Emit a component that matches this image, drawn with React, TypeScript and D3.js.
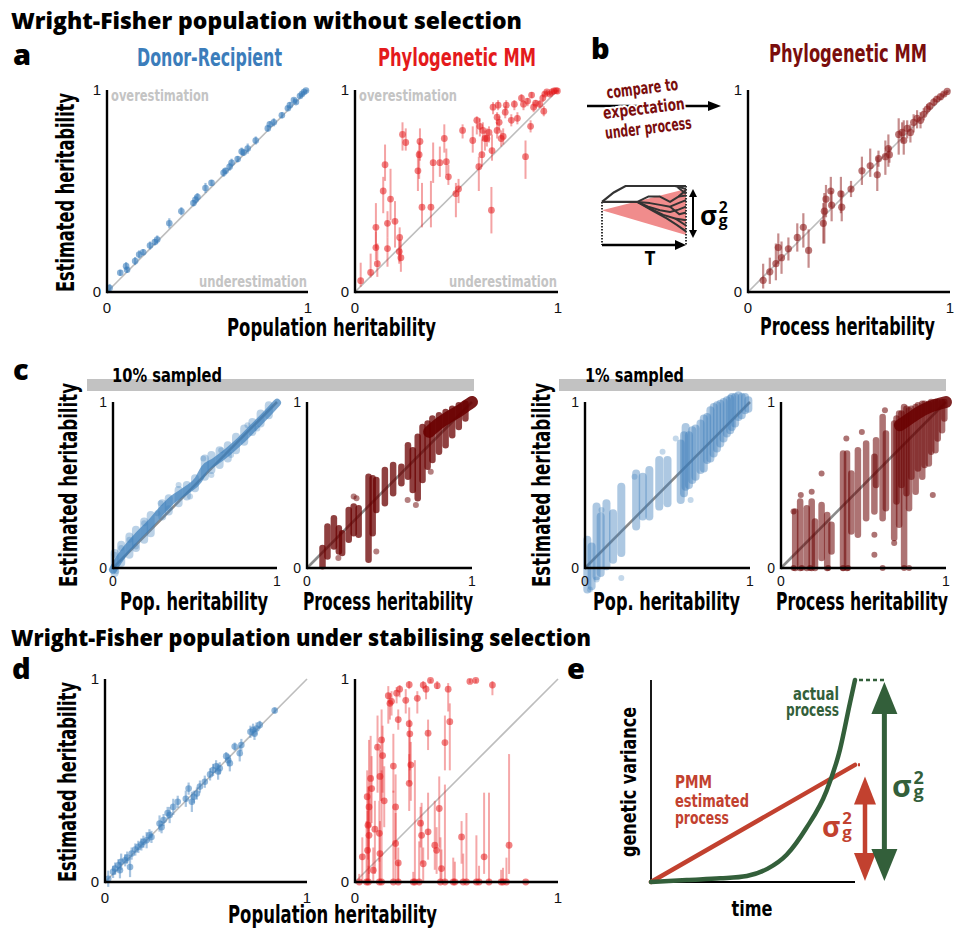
import React from "react";
import * as d3 from "d3";

const W = 955, H = 933;
const COND = "'Liberation Sans Narrow','Arial Narrow','DejaVu Sans Condensed','Roboto',sans-serif";
const BOLD = "'Open Sans','DejaVu Sans',sans-serif";
const TICK = "'Liberation Sans','Arimo',Arial,sans-serif";

const BLUE = "#3b7dbb";
const RED = "#e41a1c";
const DRED = "#7a0d0d";
const BRED = "#8c1a1a";
const CRED = "#6a0000";
const EGREEN = "#335f3a";
const ERED = "#c2412f";
const GRAYTXT = "#c4c4c4";

// ---------- panel a : Donor-Recipient [x, y, halfErr]
const aDR: number[][] = [
  [0.013,0.02,0.02],[0.066,0.095,0.015],[0.095,0.128,0.02],[0.1,0.11,0.015],[0.14,0.153,0.02],[0.16,0.186,0.02],
  [0.18,0.197,0.015],[0.214,0.23,0.02],[0.238,0.247,0.015],[0.25,0.26,0.02],[0.31,0.34,0.025],[0.37,0.40,0.02],
  [0.43,0.44,0.015],[0.44,0.457,0.02],[0.45,0.47,0.02],[0.49,0.515,0.025],[0.52,0.54,0.015],[0.58,0.59,0.02],
  [0.59,0.6,0.015],[0.61,0.62,0.02],[0.62,0.64,0.02],[0.65,0.658,0.015],[0.67,0.695,0.02],[0.68,0.69,0.015],
  [0.70,0.71,0.025],[0.74,0.75,0.02],[0.80,0.81,0.015],[0.81,0.83,0.015],[0.83,0.84,0.02],[0.87,0.875,0.015],
  [0.9,0.91,0.01],[0.91,0.925,0.015],[0.93,0.95,0.01],[0.94,0.94,0.01],[0.96,0.97,0.01],[0.97,0.98,0.01],
  [0.98,0.99,0.008],[0.99,0.997,0.005],
];
// ---------- panel a : Phylogenetic MM [x, y, lo, hi]
const aPMM: number[][] = [
  [0.028,0.056,0.026,0.145],[0.077,0.097,0.072,0.19],[0.11,0.14,0.075,0.24],[0.103,0.22,0.158,0.30],
  [0.103,0.32,0.215,0.44],[0.139,0.50,0.39,0.57],[0.148,0.63,0.55,0.73],[0.16,0.215,0.125,0.27],
  [0.16,0.34,0.27,0.40],[0.175,0.46,0.355,0.61],[0.197,0.35,0.22,0.45],[0.22,0.27,0.15,0.32],
  [0.218,0.20,0.14,0.26],[0.226,0.17,0.10,0.26],[0.234,0.78,0.70,0.84],[0.25,0.74,0.70,0.81],
  [0.31,0.60,0.50,0.70],[0.316,0.68,0.56,0.74],[0.32,0.745,0.65,0.81],[0.33,0.42,0.32,0.54],
  [0.374,0.42,0.32,0.55],[0.385,0.64,0.54,0.74],[0.418,0.64,0.57,0.72],[0.44,0.76,0.69,0.83],
  [0.45,0.645,0.58,0.71],[0.46,0.57,0.53,0.63],[0.497,0.487,0.37,0.54],[0.51,0.51,0.44,0.56],
  [0.53,0.80,0.76,0.83],[0.58,0.75,0.69,0.82],[0.60,0.85,0.78,0.87],[0.61,0.62,0.50,0.67],
  [0.615,0.82,0.77,0.86],[0.625,0.68,0.62,0.755],[0.63,0.80,0.75,0.84],[0.64,0.76,0.70,0.80],
  [0.65,0.76,0.72,0.81],[0.66,0.79,0.74,0.82],[0.675,0.70,0.65,0.78],[0.672,0.405,0.29,0.52],
  [0.68,0.915,0.88,0.94],[0.70,0.865,0.83,0.89],[0.70,0.80,0.76,0.84],[0.705,0.925,0.9,0.95],
  [0.71,0.84,0.80,0.87],[0.72,0.76,0.72,0.80],[0.73,0.77,0.73,0.81],[0.74,0.89,0.86,0.92],
  [0.745,0.925,0.9,0.95],[0.77,0.85,0.82,0.88],[0.785,0.93,0.9,0.95],[0.80,0.86,0.83,0.89],
  [0.82,0.96,0.94,0.98],[0.83,0.93,0.9,0.95],[0.84,0.67,0.56,0.75],[0.85,0.945,0.92,0.96],
  [0.865,0.82,0.79,0.85],[0.87,0.975,0.96,0.99],[0.88,0.915,0.89,0.94],[0.89,0.935,0.91,0.95],
  [0.91,0.93,0.91,0.95],[0.925,0.96,0.94,0.98],[0.93,0.895,0.87,0.92],[0.935,0.98,0.97,0.99],
  [0.945,0.99,0.98,1.0],[0.96,0.98,0.97,0.99],[0.97,0.99,0.98,1.0],[0.98,0.995,0.99,1.0],
  [0.99,0.997,0.99,1.0],[0.997,0.995,0.99,1.0],
];
// ---------- panel b : PMM vs process heritability [x, y, lo, hi]
const bPMM: number[][] = [
  [0.075,0.058,0.017,0.14],[0.108,0.10,0.04,0.17],[0.138,0.14,0.058,0.24],[0.15,0.22,0.14,0.29],
  [0.166,0.17,0.09,0.25],[0.2,0.214,0.156,0.27],[0.244,0.27,0.2,0.34],[0.274,0.32,0.22,0.39],
  [0.3,0.206,0.12,0.31],[0.373,0.34,0.24,0.44],[0.378,0.40,0.24,0.49],[0.386,0.46,0.37,0.53],
  [0.41,0.50,0.42,0.57],[0.414,0.43,0.35,0.50],[0.46,0.486,0.39,0.57],[0.464,0.42,0.35,0.50],
  [0.51,0.51,0.47,0.55],[0.564,0.60,0.53,0.67],[0.605,0.625,0.57,0.71],[0.64,0.58,0.50,0.67],
  [0.646,0.66,0.62,0.70],[0.68,0.67,0.58,0.75],[0.695,0.71,0.62,0.78],[0.7,0.68,0.64,0.72],
  [0.746,0.78,0.68,0.86],[0.763,0.79,0.74,0.84],[0.771,0.75,0.68,0.85],[0.788,0.81,0.76,0.85],
  [0.804,0.79,0.74,0.83],[0.82,0.84,0.79,0.88],[0.837,0.86,0.81,0.90],[0.854,0.85,0.81,0.89],
  [0.87,0.88,0.85,0.91],[0.887,0.906,0.88,0.93],[0.9,0.92,0.9,0.94],[0.92,0.94,0.92,0.96],
  [0.935,0.955,0.94,0.97],[0.953,0.967,0.95,0.98],[0.97,0.98,0.97,0.99],[0.986,0.993,0.985,1.0],
];
// ---------- panel b inset schematic (unit coords)
const insetTop: number[][] = [[0,0.73],[0.14,0.89],[0.28,1],[1,1]];
const insetStem: number[][] = [[0,0.73],[0.42,0.73]];
const insetCone: number[][] = [[0,0.59],[1,0.95],[1,0.17]];
const insetPaths: number[][][] = [
  [[0.42,0.73],[0.55,0.82],[0.69,0.82],[0.81,0.73],[0.91,0.82],[1,0.93]],
  [[0.42,0.73],[0.57,0.71],[0.69,0.68],[0.81,0.65],[0.91,0.71],[1,0.76]],
  [[0.42,0.73],[0.55,0.65],[0.69,0.59],[0.81,0.56],[0.91,0.60],[1,0.65]],
  [[0.42,0.73],[0.57,0.62],[0.73,0.51],[0.87,0.45],[1,0.42]],
  [[0.42,0.73],[0.59,0.59],[0.77,0.45],[0.89,0.34],[1,0.23]],
  [[0.87,1],[1,0.95]],
  [[0.9,0.98],[1,0.87]],
  [[0.91,0.82],[1,0.84]],
  [[0.81,0.65],[0.92,0.52],[1,0.55]],
  [[0.87,0.45],[1,0.33]],
];

// ---------- panel c : 10% sampled
const c10BlueBand: number[][] = [
  [0.0,-0.01],[0.03,0.04],[0.08,0.11],[0.16,0.2],[0.24,0.28],[0.3,0.35],[0.36,0.41],[0.45,0.47],
  [0.52,0.53],[0.56,0.6],[0.62,0.64],[0.7,0.7],[0.78,0.77],[0.86,0.85],[0.93,0.92],[1.0,0.995],
];
const c10BlueCols: number[][] = [
  [0.01,-0.03,0.09],[0.05,0.03,0.14],[0.1,0.08,0.19],[0.14,0.12,0.23],[0.19,0.17,0.28],[0.23,0.21,0.32],
  [0.3,0.31,0.39],[0.34,0.34,0.42],[0.4,0.39,0.47],[0.45,0.43,0.5],[0.5,0.48,0.54],[0.56,0.55,0.66],
  [0.6,0.59,0.68],[0.65,0.62,0.71],[0.7,0.66,0.74],[0.75,0.71,0.79],[0.8,0.76,0.84],[0.85,0.82,0.88],
  [0.9,0.87,0.93],[0.95,0.92,0.98],
];
const c10BluePts: number[][] = [
  [0.01,0.08],[0.02,-0.02],[0.05,0.12],[0.1,0.17],[0.14,0.13],[0.19,0.27],[0.27,0.33],[0.29,0.39],
  [0.34,0.36],[0.4,0.5],[0.47,0.43],[0.55,0.66],[0.6,0.56],[0.66,0.71],[0.72,0.68],[0.82,0.86],[0.88,0.84],
];
const c10RedCols: number[][] = [
  [0.094,0.01,0.12],[0.124,0.07,0.25],[0.163,0.13,0.30],[0.193,0.10,0.24],[0.213,0.09,0.21],
  [0.253,0.17,0.35],[0.283,0.21,0.37],[0.313,0.2,0.36],[0.373,0.05,0.55],[0.398,0.21,0.54],
  [0.42,0.35,0.53],[0.472,0.39,0.59],[0.522,0.45,0.62],[0.572,0.51,0.61],[0.612,0.55,0.74],
  [0.641,0.47,0.71],[0.671,0.42,0.79],[0.70,0.53,0.85],[0.731,0.61,0.87],[0.76,0.65,0.9],
  [0.8,0.70,0.92],[0.84,0.74,0.94],[0.88,0.8,0.96],[0.92,0.85,0.98],[0.96,0.9,0.99],
];
const c10RedBand: number[][] = [[0.74,0.82],[0.8,0.87],[0.86,0.91],[0.92,0.945],[0.97,0.98],[1.0,1.0]];
const c10RedPts: number[][] = [[0.283,0.43],[0.3,0.42],[0.19,0.06],[0.42,0.1],[0.61,0.41],[0.66,0.38],[0.75,0.58]];

// ---------- panel c : 1% sampled
const c1BlueCols: number[][] = [
  [0.014,-0.13,0.17],[0.04,-0.11,0.13],[0.07,-0.05,0.37],[0.095,-0.03,0.31],[0.13,0.01,0.39],
  [0.17,0.05,0.33],[0.22,0.09,0.49],[0.31,0.25,0.57],[0.35,0.31,0.55],[0.39,0.31,0.59],
  [0.45,0.37,0.65],[0.50,0.39,0.65],[0.58,0.41,0.75],[0.6,0.45,0.8],[0.61,0.49,0.85],[0.63,0.5,0.8],
  [0.65,0.53,0.83],[0.67,0.55,0.84],[0.70,0.59,0.87],[0.72,0.6,0.9],[0.74,0.65,0.91],[0.76,0.66,0.95],
  [0.78,0.69,0.97],[0.8,0.72,0.98],[0.82,0.75,0.99],[0.84,0.78,1.0],[0.86,0.81,1.01],[0.88,0.83,1.02],
  [0.89,0.85,1.03],[0.91,0.87,1.03],[0.93,0.91,1.04],[0.95,0.92,1.03],[0.97,0.95,1.03],[0.99,0.96,1.01],
];
const c1BluePts: number[][] = [[0.07,-0.07],[0.22,-0.06],[0.03,-0.13],[0.3,0.55],[0.64,0.41],[0.1,0.35],[0.47,0.7],[0.55,0.78]];
const c1RedCols: number[][] = [
  [0.086,0,0.34],[0.116,0,0.40],[0.156,0,0.36],[0.186,0,0.40],[0.206,0,0.28],[0.246,0.06,0.38],
  [0.28,0,0.32],[0.306,0.1,0.26],[0.376,0,0.69],[0.4,0,0.69],[0.426,0.22,0.57],[0.466,0.2,0.71],
  [0.516,0.3,0.75],[0.566,0.34,0.67],[0.576,0.5,0.77],[0.616,0.3,0.91],[0.636,0.36,0.81],
  [0.686,0.18,0.87],[0.7,0.4,0.9],[0.716,0.26,0.93],[0.73,0.5,0.93],[0.746,0.02,0.97],[0.76,0.45,0.96],
  [0.776,0.36,0.95],[0.79,0.55,0.96],[0.816,0.46,0.97],[0.83,0.6,0.98],[0.856,0.55,0.99],[0.87,0.62,0.99],
  [0.896,0.63,0.99],[0.91,0.7,1.0],[0.936,0.71,1.0],[0.95,0.78,1.0],[0.976,0.83,1.0],[0.99,0.9,1.0],
];
const c1RedBand: number[][] = [[0.72,0.86],[0.78,0.9],[0.84,0.94],[0.9,0.97],[0.96,0.99],[1.0,1.0]];
const c1RedPts: number[][] = [
  [0.076,0],[0.126,0],[0.176,0],[0.286,0],[0.376,0],[0.406,0],[0.616,0],[0.746,0],[0.776,0],
  [0.92,0.44],[0.566,0.20],[0.396,0.78],[0.246,0.57],[0.076,0.34],[0.566,0.08],[0.686,0.15],
  [0.186,0.46],[0.12,0.44],[0.49,0.82],[0.63,0.95],
];

// ---------- panel d
const dDR: number[][] = [
  [0.016,0.016,0.04],[0.04,0.05,0.03],[0.05,0.066,0.03],[0.066,0.082,0.03],[0.074,0.058,0.04],[0.08,0.1,0.04],
  [0.10,0.107,0.03],[0.11,0.12,0.03],[0.124,0.074,0.05],[0.132,0.14,0.03],[0.15,0.16,0.03],[0.165,0.173,0.03],
  [0.18,0.185,0.03],[0.19,0.198,0.03],[0.206,0.206,0.04],[0.22,0.23,0.03],[0.23,0.222,0.03],[0.27,0.288,0.04],
  [0.28,0.27,0.03],[0.29,0.305,0.03],[0.31,0.34,0.03],[0.32,0.33,0.04],[0.338,0.37,0.04],[0.36,0.395,0.03],
  [0.40,0.41,0.04],[0.414,0.46,0.03],[0.43,0.395,0.05],[0.44,0.42,0.03],[0.455,0.436,0.03],[0.47,0.47,0.03],
  [0.494,0.494,0.03],[0.52,0.53,0.03],[0.535,0.552,0.03],[0.55,0.57,0.03],[0.56,0.544,0.04],[0.568,0.56,0.03],
  [0.6,0.62,0.02],[0.61,0.60,0.03],[0.618,0.585,0.04],[0.642,0.667,0.02],[0.667,0.634,0.04],[0.675,0.675,0.03],
  [0.72,0.74,0.03],[0.733,0.75,0.03],[0.74,0.73,0.03],[0.75,0.756,0.03],[0.766,0.774,0.02],[0.84,0.845,0.015],
];
const dPMM: number[][] = [
  [0.164,0.918,0.78,0.965],[0.172,0.88,0.80,0.93],[0.18,0.89,0.82,0.94],[0.205,0.93,0.88,0.96],
  [0.22,0.95,0.91,0.97],[0.213,0.80,0.75,0.85],[0.25,0.895,0.83,0.95],[0.267,0.972,0.95,0.99],
  [0.307,0.905,0.83,0.94],[0.336,0.97,0.95,0.99],[0.35,0.95,0.90,0.97],[0.372,0.993,0.98,1.0],
  [0.405,0.967,0.95,0.99],[0.459,0.95,0.84,0.98],[0.566,0.988,0.98,1.0],[0.595,0.993,0.98,1.0],
  [0.677,0.97,0.92,0.99],
  [0.036,0.124,0.0,0.22],[0.06,0.42,0.27,0.55],[0.069,0.37,0.0,0.70],[0.064,0.28,0.11,0.47],
  [0.069,0.23,0.04,0.47],[0.062,0.156,0.0,0.35],[0.077,0.51,0.27,0.72],[0.082,0.46,0.29,0.62],
  [0.09,0.058,0.0,0.17],[0.098,0.26,0.04,0.40],[0.111,0.664,0.44,0.82],[0.12,0.24,0.10,0.40],
  [0.123,0.14,0.0,0.30],[0.123,0.52,0.40,0.65],[0.131,0.70,0.40,0.85],[0.136,0.623,0.44,0.77],
  [0.144,0.40,0.27,0.57],[0.189,0.571,0.44,0.73],[0.20,0.37,0.11,0.53],[0.20,0.19,0.0,0.34],
  [0.213,0.094,0.0,0.17],[0.267,0.78,0.49,0.86],[0.27,0.73,0.55,0.80],[0.275,0.577,0.40,0.69],
  [0.267,0.486,0.35,0.63],[0.323,0.29,0.17,0.37],[0.328,0.23,0.09,0.39],[0.336,0.09,0.0,0.17],
  [0.36,0.733,0.65,0.80],[0.36,0.247,0.11,0.44],[0.393,0.181,0.06,0.40],[0.402,0.156,0.04,0.27],
  [0.415,0.362,0.17,0.52],[0.426,0.066,0.0,0.16],[0.443,0.687,0.55,0.82],[0.467,0.79,0.55,0.88],
  [0.525,0.222,0.09,0.30],[0.636,0.124,0.04,0.44],[0.759,0.181,0.04,0.63],
  [0.021,0,0,0.04],[0.057,0,0,0.30],[0.066,0,0,0.08],[0.12,0,0,0.12],[0.131,0,0,0.55],[0.189,0,0,0.45],
  [0.213,0,0,0.10],[0.287,0,0,0.05],[0.295,0,0,0.60],[0.316,0,0,0.20],[0.421,0,0,0.22],[0.443,0,0,0.48],
  [0.484,0,0,0.12],[0.492,0,0,0.10],[0.533,0,0,0.14],[0.549,0,0,0.34],[0.598,0,0,0.23],[0.611,0,0,0.08],
  [0.66,0,0,0.44],[0.72,0,0,0.06],[0.729,0,0,0.07],[0.746,0,0,0.12],[0.841,0,0,0.0],
];

// ---------- panel e
const eActual: number[][] = [[0,0],[0.175,0.01],[0.34,0.018],[0.47,0.03],[0.57,0.065],[0.665,0.135],[0.76,0.265],[0.86,0.45],[0.926,0.654],[0.975,0.885],[1.0,1.0]];
const ePMM: number[][] = [[0,0],[1.0,0.58]];
const eArrows = [
  { x: 1.049, y0: 0.005, y1: 0.522, color: ERED, hw: 11, hl: 28, sw: 4.5 },
  { x: 1.144, y0: 0.005, y1: 0.99, color: EGREEN, hw: 13, hl: 32, sw: 5 },
];

type Sc = d3.ScaleLinear<number, number>;

function Plot(props: {
  x0: number; x1: number; yTop: number; yBot: number;
  diagColor?: string; diagW?: number; axisW?: number; fs?: number; xLabDy?: number;
  children?: (xs: Sc, ys: Sc) => React.ReactNode;
}) {
  const { x0, x1, yTop, yBot, diagColor = "#bdbdbd", diagW = 1.6, axisW = 2.4, fs = 15, xLabDy = 21, children } = props;
  const xs = d3.scaleLinear().domain([0, 1]).range([x0, x1]);
  const ys = d3.scaleLinear().domain([0, 1]).range([yBot, yTop]);
  return (
    <g>
      <line x1={xs(0)} y1={ys(0)} x2={xs(1)} y2={ys(1)} stroke={diagColor} strokeWidth={diagW} />
      {children && children(xs, ys)}
      <line x1={x0} y1={yTop} x2={x0} y2={yBot + axisW / 2} stroke="#000" strokeWidth={axisW} />
      <line x1={x0} y1={yBot} x2={x1} y2={yBot} stroke="#000" strokeWidth={axisW} />
      <g fontFamily={TICK} fontSize={fs} fill="#111">
        <text x={x0 - 6} y={ys(1) + fs * 0.36} textAnchor="end">1</text>
        <text x={x0 - 6} y={ys(0) + fs * 0.36} textAnchor="end">0</text>
        <text x={xs(0)} y={yBot + xLabDy} textAnchor="middle">0</text>
        <text x={xs(1)} y={yBot + xLabDy} textAnchor="middle">1</text>
      </g>
    </g>
  );
}

function ErrPts({ data, xs, ys, color, r = 3.4, op = 0.55, barOp = 0.42, barW = 2 }:
  { data: number[][]; xs: Sc; ys: Sc; color: string; r?: number; op?: number; barOp?: number; barW?: number }) {
  return (
    <g>
      {data.map((d, i) => (
        <line key={"b" + i} x1={xs(d[0])} x2={xs(d[0])} y1={ys(d[2])} y2={ys(d[3])}
          stroke={color} strokeOpacity={barOp} strokeWidth={barW} />
      ))}
      {data.map((d, i) => (
        <circle key={"c" + i} cx={xs(d[0])} cy={ys(d[1])} r={r} fill={color} fillOpacity={op} />
      ))}
    </g>
  );
}

function symm(data: number[][]) {
  return data.map((d) => [d[0], d[1], d[1] - d[2], d[1] + d[2]]);
}

function Cols({ data, xs, ys, color, w = 7, op = 0.5 }:
  { data: number[][]; xs: Sc; ys: Sc; color: string; w?: number; op?: number }) {
  return (
    <g>
      {data.map((d, i) => (
        <line key={i} x1={xs(d[0])} x2={xs(d[0])} y1={ys(d[1])} y2={ys(d[2])}
          stroke={color} strokeWidth={w} strokeLinecap="round" strokeOpacity={op} />
      ))}
    </g>
  );
}

function Dots({ data, xs, ys, color, r = 3, op = 0.5 }:
  { data: number[][]; xs: Sc; ys: Sc; color: string; r?: number; op?: number }) {
  return <g>{data.map((d, i) => <circle key={i} cx={xs(d[0])} cy={ys(d[1])} r={r} fill={color} fillOpacity={op} />)}</g>;
}

function Band({ data, xs, ys, color, w, op }:
  { data: number[][]; xs: Sc; ys: Sc; color: string; w: number; op: number }) {
  const line = d3.line<number[]>().x((d) => xs(d[0])).y((d) => ys(d[1])).curve(d3.curveMonotoneX);
  return <path d={line(data) || ""} fill="none" stroke={color} strokeWidth={w} strokeOpacity={op}
    strokeLinecap="round" strokeLinejoin="round" />;
}

function CText(p: { x: number; y: number; len?: number; size: number; color?: string; anchor?: string; rotate?: boolean; children: React.ReactNode; font?: string; weight?: number | string }) {
  const { x, y, len, size, color = "#000", anchor = "start", rotate = false, children, font = COND, weight = "bold" } = p;
  return (
    <text x={x} y={y} fontFamily={font} fontWeight={weight} fontSize={size} fill={color}
      textAnchor={anchor as any}
      textLength={len} lengthAdjust={len ? "spacingAndGlyphs" : undefined}
      transform={rotate ? `rotate(-90 ${x} ${y})` : undefined}>
      {children}
    </text>
  );
}

function Sigma({ x, y, size, color }: { x: number; y: number; size: number; color: string }) {
  const s = size * 0.6;
  const dx = size * 0.72;
  return (
    <g fontFamily={BOLD} fontWeight="bold" fill={color}>
      <text x={x} y={y} fontSize={size}>σ</text>
      <text x={x + dx} y={y - size * 0.45} fontSize={s}>2</text>
      <text x={x + dx} y={y + size * 0.04} fontSize={s}>g</text>
    </g>
  );
}

function ArrowHead({ x, y, dir, hw, hl, color }: { x: number; y: number; dir: string; hw: number; hl: number; color: string }) {
  let pts: number[][];
  if (dir === "up") pts = [[x, y], [x - hw, y + hl], [x + hw, y + hl]];
  else if (dir === "down") pts = [[x, y], [x - hw, y - hl], [x + hw, y - hl]];
  else pts = [[x, y], [x - hl, y - hw], [x - hl, y + hw]];
  return <polygon points={pts.map((p) => p.join(",")).join(" ")} fill={color} />;
}

function Inset() {
  const xi = d3.scaleLinear().domain([0, 1]).range([602, 686]);
  const yi = d3.scaleLinear().domain([0, 1]).range([245, 186]);
  const ln = d3.line<number[]>().x((d) => xi(d[0])).y((d) => yi(d[1]));
  return (
    <g>
      <polygon points={insetCone.map((d) => `${xi(d[0])},${yi(d[1])}`).join(" ")} fill="#f08c8c" />
      <line x1={xi(0)} x2={xi(0)} y1={yi(0.73)} y2={yi(0)} stroke="#333" strokeWidth={2} strokeDasharray="1.5,1.5" />
      <line x1={xi(1)} x2={xi(1)} y1={yi(1)} y2={yi(0)} stroke="#333" strokeWidth={2} strokeDasharray="1.5,1.5" />
      <path d={ln(insetTop) || ""} fill="none" stroke="#333" strokeWidth={2.2} />
      <path d={ln(insetStem) || ""} fill="none" stroke="#333" strokeWidth={2.2} />
      {insetPaths.map((p, i) => <path key={i} d={ln(p) || ""} fill="none" stroke="#333" strokeWidth={2} strokeLinejoin="round" />)}
      <line x1={xi(0)} x2={xi(1) - 8} y1={yi(0)} y2={yi(0)} stroke="#000" strokeWidth={2.5} />
      <ArrowHead x={xi(1)} y={yi(0)} dir="right" hw={5} hl={11} color="#000" />
      <line x1={693} x2={693} y1={196} y2={231} stroke="#000" strokeWidth={2} />
      <ArrowHead x={693} y={189} dir="up" hw={4} hl={8} color="#000" />
      <ArrowHead x={693} y={238} dir="down" hw={4} hl={8} color="#000" />
      <Sigma x={700} y={225} size={26} color="#000" />
      <text x={650} y={265} fontFamily={BOLD} fontWeight="bold" fontSize={19} textAnchor="middle">T</text>
    </g>
  );
}

export default function App() {
  const ex = d3.scaleLinear().domain([0, 1]).range([651, 855]);
  const ey = d3.scaleLinear().domain([0, 1]).range([882, 680]);
  const eLine = d3.line<number[]>().x((d) => ex(d[0])).y((d) => ey(d[1])).curve(d3.curveMonotoneX);

  return (
    <svg width={W} height={H} viewBox={`0 0 ${W} ${H}`}
      style={{ position: "absolute", left: 0, top: 0, background: "#fff" }}>
      <rect width={W} height={H} fill="#fff" />

      {/* titles */}
      <CText x={11} y={29} size={23} len={511} font={BOLD} weight={800}>Wright-Fisher population without selection</CText>
      <CText x={11} y={646} size={23} len={580} font={BOLD} weight={800}>Wright-Fisher population under stabilising selection</CText>

      {/* panel letters */}
      <CText x={13} y={65} size={29} font={BOLD} weight={800}>a</CText>
      <CText x={591} y={59} size={29} font={BOLD} weight={800}>b</CText>
      <CText x={13} y={380} size={29} font={BOLD} weight={800}>c</CText>
      <CText x={12} y={679} size={29} font={BOLD} weight={800}>d</CText>
      <CText x={567} y={679} size={29} font={BOLD} weight={800}>e</CText>

      {/* panel a */}
      <CText x={137} y={66} size={24} len={145} color={BLUE}>Donor-Recipient</CText>
      <CText x={378} y={66} size={24} len={158} color={RED}>Phylogenetic MM</CText>
      <CText x={74} y={292} size={24} len={199} rotate>Estimated heritability</CText>
      <CText x={227} y={336} size={24} len={209}>Population heritability</CText>
      <Plot x0={107} x1={308} yTop={90} yBot={292}>
        {(xs, ys) => <ErrPts data={symm(aDR)} xs={xs} ys={ys} color={BLUE} r={3.3} op={0.6} barOp={0.5} barW={2.2} />}
      </Plot>
      <CText x={111} y={101} size={15} len={98} color={GRAYTXT}>overestimation</CText>
      <CText x={307} y={287} size={15} len={108} color={GRAYTXT} anchor="end">underestimation</CText>
      <Plot x0={355} x1={558} yTop={90} yBot={292}>
        {(xs, ys) => <ErrPts data={aPMM} xs={xs} ys={ys} color={RED} r={3.4} op={0.55} barOp={0.4} />}
      </Plot>
      <CText x={359} y={101} size={15} len={98} color={GRAYTXT}>overestimation</CText>
      <CText x={557} y={287} size={15} len={108} color={GRAYTXT} anchor="end">underestimation</CText>

      {/* panel b */}
      <CText x={769} y={62} size={24} len={158} color={DRED}>Phylogenetic MM</CText>
      <line x1={587} x2={710} y1={106} y2={106} stroke="#000" strokeWidth={2.5} />
      <ArrowHead x={721} y={106} dir="right" hw={5} hl={13} color="#000" />
      <g transform="rotate(-7 645 110)">
        <text x={645} y={94} fontFamily={COND} fontWeight="bold" fontSize={17} fill={DRED} stroke="#fff" strokeWidth={4}
          textAnchor="middle" textLength={72} lengthAdjust="spacingAndGlyphs" style={{ paintOrder: "stroke" }}>compare to</text>
        <text x={644} y={114} fontFamily={COND} fontWeight="bold" fontSize={17} fill={DRED} stroke="#fff" strokeWidth={4}
          textAnchor="middle" textLength={82} lengthAdjust="spacingAndGlyphs" style={{ paintOrder: "stroke" }}>expectation</text>
        <text x={646} y={134} fontFamily={COND} fontWeight="bold" fontSize={17} fill={DRED} stroke="#fff" strokeWidth={4}
          textAnchor="middle" textLength={87} lengthAdjust="spacingAndGlyphs" style={{ paintOrder: "stroke" }}>under process</text>
      </g>
      <Inset />
      <Plot x0={748} x1={950} yTop={90} yBot={292}>
        {(xs, ys) => <ErrPts data={bPMM} xs={xs} ys={ys} color={BRED} r={3.6} op={0.6} barOp={0.5} barW={2.2} />}
      </Plot>
      <CText x={760} y={335} size={24} len={175}>Process heritability</CText>

      {/* panel c */}
      <rect x={87} y={379} width={387} height={12} fill="#c2c2c2" />
      <rect x={559} y={379} width={387} height={12} fill="#c2c2c2" />
      <CText x={112} y={382} size={20} len={110}>10% sampled</CText>
      <CText x={585} y={382} size={20} len={99}>1% sampled</CText>
      <CText x={77} y={587} size={24} len={204} rotate>Estimated heritability</CText>
      <CText x={550} y={587} size={24} len={204} rotate>Estimated heritability</CText>
      <CText x={120} y={610} size={24} len={148}>Pop. heritability</CText>
      <CText x={303} y={610} size={24} len={170}>Process heritability</CText>
      <CText x={593} y={610} size={24} len={147}>Pop. heritability</CText>
      <CText x={776} y={610} size={24} len={172}>Process heritability</CText>

      <Plot x0={113} x1={277} yTop={402} yBot={568} diagColor="#8a8a8a" diagW={2.6} fs={14} xLabDy={18}>
        {(xs, ys) => (
          <g>
            <Cols data={c10BlueCols} xs={xs} ys={ys} color={BLUE} w={8} op={0.35} />
            <Band data={c10BlueBand} xs={xs} ys={ys} color={BLUE} w={8} op={0.7} />
            <Dots data={c10BluePts} xs={xs} ys={ys} color={BLUE} r={3} op={0.3} />
          </g>
        )}
      </Plot>
      <Plot x0={307} x1={472} yTop={402} yBot={568} diagColor="#8a8a8a" diagW={2.6} fs={14} xLabDy={18}>
        {(xs, ys) => (
          <g>
            <Cols data={c10RedCols} xs={xs} ys={ys} color={CRED} w={6.5} op={0.75} />
            <Band data={c10RedBand} xs={xs} ys={ys} color={CRED} w={12} op={0.9} />
            <Dots data={c10RedPts} xs={xs} ys={ys} color={CRED} r={3} op={0.5} />
          </g>
        )}
      </Plot>
      <Plot x0={585} x1={750} yTop={402} yBot={568} diagColor="#8a8a8a" diagW={2.6} fs={14} xLabDy={18}>
        {(xs, ys) => (
          <g>
            <Cols data={c1BlueCols} xs={xs} ys={ys} color={BLUE} w={8} op={0.42} />
            <Dots data={c1BluePts} xs={xs} ys={ys} color={BLUE} r={3} op={0.3} />
          </g>
        )}
      </Plot>
      <Plot x0={781} x1={946} yTop={402} yBot={568} diagColor="#8a8a8a" diagW={2.6} fs={14} xLabDy={18}>
        {(xs, ys) => (
          <g>
            <Cols data={c1RedCols} xs={xs} ys={ys} color={CRED} w={6.5} op={0.55} />
            <Band data={c1RedBand} xs={xs} ys={ys} color={CRED} w={12} op={0.85} />
            <Dots data={c1RedPts} xs={xs} ys={ys} color={CRED} r={3} op={0.55} />
          </g>
        )}
      </Plot>

      {/* panel d */}
      <CText x={76} y={882} size={24} len={200} rotate>Estimated heritability</CText>
      <CText x={228} y={923} size={24} len={209}>Population heritability</CText>
      <Plot x0={105} x1={307} yTop={679} yBot={882}>
        {(xs, ys) => <ErrPts data={symm(dDR)} xs={xs} ys={ys} color={BLUE} r={3.3} op={0.55} barOp={0.45} barW={2.2} />}
      </Plot>
      <Plot x0={355} x1={558} yTop={679} yBot={882}>
        {(xs, ys) => <ErrPts data={dPMM} xs={xs} ys={ys} color={RED} r={3.4} op={0.55} barOp={0.38} />}
      </Plot>

      {/* panel e */}
      <line x1={651} y1={680} x2={651} y2={882} stroke="#000" strokeWidth={1.8} />
      <line x1={651} y1={882} x2={855} y2={882} stroke="#000" strokeWidth={1.8} />
      <path d={eLine(ePMM) || ""} fill="none" stroke={ERED} strokeWidth={4.5} strokeLinecap="round" />
      <line x1={ex(1.0) + 3} x2={ex(1.035)} y1={ey(0.58)} y2={ey(0.58)} stroke={ERED} strokeWidth={3} strokeDasharray="2,3" />
      <path d={eLine(eActual) || ""} fill="none" stroke={EGREEN} strokeWidth={4.5} strokeLinecap="round" />
      <line x1={ex(1.0) + 4} x2={ex(1.15)} y1={ey(1)} y2={ey(1)} stroke={EGREEN} strokeWidth={2.5} strokeDasharray="4,3" />
      {eArrows.map((a, i) => (
        <g key={i}>
          <line x1={ex(a.x)} x2={ex(a.x)} y1={ey(a.y1) + a.hl - 2} y2={ey(a.y0) - a.hl + 2} stroke={a.color} strokeWidth={a.sw} />
          <ArrowHead x={ex(a.x)} y={ey(a.y1)} dir="up" hw={a.hw} hl={a.hl} color={a.color} />
          <ArrowHead x={ex(a.x)} y={ey(a.y0)} dir="down" hw={a.hw} hl={a.hl} color={a.color} />
        </g>
      ))}
      <Sigma x={892} y={797} size={30} color={EGREEN} />
      <Sigma x={822} y={837} size={28} color={ERED} />
      <CText x={839} y={700} size={18} color={EGREEN} anchor="end" len={46}>actual</CText>
      <CText x={839} y={716} size={18} color={EGREEN} anchor="end" len={53}>process</CText>
      <CText x={675} y={788} size={18} color={ERED} len={37}>PMM</CText>
      <CText x={675} y={807} size={18} color={ERED} len={74}>estimated</CText>
      <CText x={675} y={824} size={18} color={ERED} len={54}>process</CText>
      <CText x={636} y={857} size={22} len={150} rotate>genetic variance</CText>
      <CText x={752} y={916} size={22} len={41} anchor="middle">time</CText>
    </svg>
  );
}
